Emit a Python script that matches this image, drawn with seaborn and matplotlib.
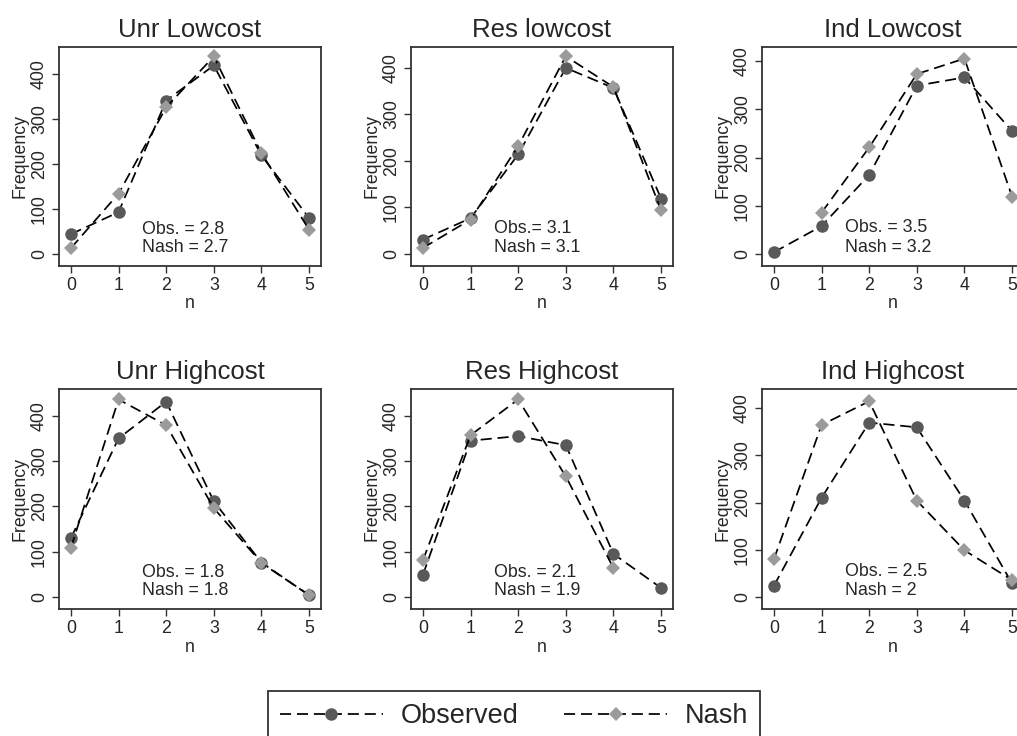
import numpy as np
import pandas as pd
import matplotlib
matplotlib.use("Agg")
import matplotlib.pyplot as plt
from matplotlib.lines import Line2D
import seaborn as sns

# ---- data ----
n_values = [0, 1, 2, 3, 4, 5]
titles = ["Unr Lowcost", "Res lowcost", "Ind Lowcost",
          "Unr Highcost", "Res Highcost", "Ind Highcost"]
obs_unr_low = [44, 93, 341, 419, 219, 80]
nash_unr_low = [13, 134, 326, 439, 224, 54]
obs_res_low = [31, 77, 214, 400, 357, 119]
nash_res_low = [13, 74, 232, 425, 359, 94]
obs_ind_low = [4, 58, 164, 349, 366, 255]
nash_ind_low = [np.nan, 86, 221, 373, 405, 119]
obs_unr_high = [130, 350, 431, 211, 76, 4]
nash_unr_high = [109, 436, 379, 196, 75, 4]
obs_res_high = [49, 345, 355, 335, 95, 20]
nash_res_high = [81, 357, 436, 266, 64, np.nan]
obs_ind_high = [24, 210, 369, 359, 204, 29]
nash_ind_high = [80, 364, 414, 204, 99, 36]
obs_labels = ["Obs. = 2.8", "Obs.= 3.1", "Obs. = 3.5",
              "Obs. = 1.8", "Obs. = 2.1", "Obs. = 2.5"]
nash_labels = ["Nash = 2.7", "Nash = 3.1", "Nash = 3.2",
               "Nash = 1.8", "Nash = 1.9", "Nash = 2"]
yticks = [0, 100, 200, 300, 400]
legend_labels = ["Observed", "Nash"]

observed = [obs_unr_low, obs_res_low, obs_ind_low, obs_unr_high, obs_res_high, obs_ind_high]
nash = [nash_unr_low, nash_res_low, nash_ind_low, nash_unr_high, nash_res_high, nash_ind_high]

# ---- style ----
sns.set_style("ticks")
plt.rcParams['font.family'] = ['Liberation Sans', 'DejaVu Sans']
plt.rcParams['lines.scale_dashes'] = False

W, H = 1017, 736
fig = plt.figure(figsize=(W / 100, H / 100), dpi=100)

col_left = [59, 411, 762]
col_w = 262
row_top = [47, 389]
row_h = [219, 220]
ylims = [(-26.7, 460), (-25.8, 445), (-24.6, 429),
         (-26.5, 459), (-26.5, 459), (-25, 440)]

dash = (0, (8.0, 4.2))
lw = 1.25
obs_color = "#595959"
nash_color = "#9b9b9b"
frame_color = "#333333"
fs = 12.8

for i in range(6):
    r, c = divmod(i, 3)
    left = col_left[c] / W
    bottom = 1 - (row_top[r] + row_h[r]) / H
    ax = fig.add_axes([left, bottom, col_w / W, row_h[r] / H])
    df = pd.DataFrame({"n": n_values, "obs": observed[i], "nash": nash[i]})
    sns.lineplot(data=df, x="n", y="obs", ax=ax, color="black", linewidth=lw,
                 linestyle=dash, marker="o", markersize=9.0,
                 markerfacecolor=obs_color, markeredgewidth=0, zorder=3)
    sns.lineplot(data=df.dropna(subset=["nash"]), x="n", y="nash", ax=ax, color="black",
                 linewidth=lw, linestyle=dash, marker="D", markersize=7.2,
                 markerfacecolor=nash_color, markeredgewidth=0, zorder=4)
    ax.set_xlim(-0.25, 5.25)
    ax.set_ylim(*ylims[i])
    ax.set_xticks(n_values)
    ax.set_yticks(yticks)
    ax.set_yticklabels([str(t) for t in yticks], rotation=90, va="center")
    ax.tick_params(axis="both", labelsize=fs, length=5, width=1.0,
                   color=frame_color, pad=3)
    ax.set_xlabel("n", fontsize=fs, labelpad=1)
    ax.set_ylabel("Frequency", fontsize=fs, labelpad=2)
    ax.set_title(titles[i], fontsize=18.5, pad=7)
    for s in ax.spines.values():
        s.set_color(frame_color)
        s.set_linewidth(1.3)
    ax.text(1.5, 55, obs_labels[i], fontsize=fs, va="center", ha="left", zorder=5)
    ax.text(1.5, 14, nash_labels[i], fontsize=fs, va="center", ha="left", zorder=5)

handles = [
    Line2D([], [], color="black", linewidth=lw, linestyle=dash, marker="o",
           markersize=9.0, markerfacecolor=obs_color, markeredgewidth=0),
    Line2D([], [], color="black", linewidth=lw, linestyle=dash, marker="D",
           markersize=7.2, markerfacecolor=nash_color, markeredgewidth=0),
]
leg = fig.legend(handles, legend_labels, loc="upper center",
                 bbox_to_anchor=(514 / W, 1 - 691 / H), ncol=2, fontsize=19.5,
                 frameon=True, fancybox=False, edgecolor="black",
                 handlelength=3.8, columnspacing=1.7, borderpad=0.45,
                 handletextpad=0.65, borderaxespad=0)
leg.get_frame().set_linewidth(1.3)

fig.savefig("out.png", dpi=100)
